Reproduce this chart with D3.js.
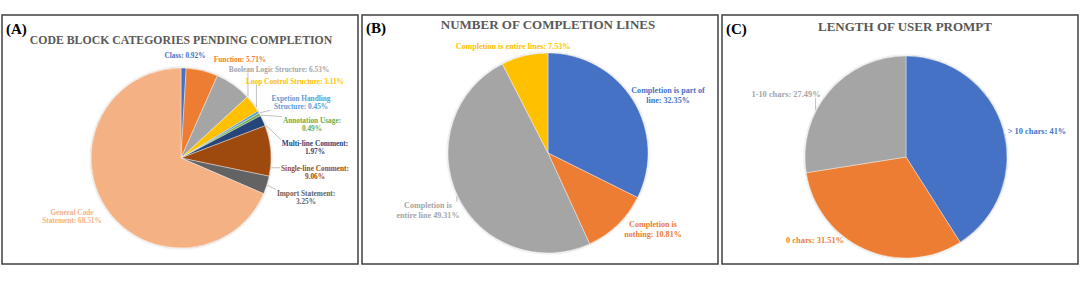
<!DOCTYPE html>
<html>
<head>
  <script src="https://d3js.org/d3.v7.min.js"></script>
  <style>
    body { margin: 0; background: #fff; }
    text { font-family: "Liberation Serif", "Times New Roman", serif; font-weight: bold; }
  </style>
</head>
<body>
  <svg id="chart" width="1080" height="282"></svg>
  <script>
    // ---- data ----
    const blockCategories = ["Class", "Function", "Boolean Logic Structure", "Loop Control Structure",
      "Expetion Handling Structure", "Annotation Usage", "Multi-line Comment", "Single-line Comment",
      "Import Statement", "General Code Statement"];
    const blockValues = [0.92, 5.71, 6.53, 3.11, 0.45, 0.49, 1.97, 9.06, 3.25, 68.51];
    const blockLabels = [["Class: 0.92%"], ["Function: 5.71%"], ["Boolean Logic Structure: 6.53%"],
      ["Loop Control Structure: 3.11%"], ["Expetion Handling", "Structure: 0.45%"], ["Annotation Usage:", "0.49%"],
      ["Multi-line Comment:", "1.97%"], ["Single-line Comment:", "9.06%"], ["Import Statement:", "3.25%"],
      ["General Code", "Statement: 68.51%"]];

    const lineCategories = ["Completion is part of line", "Completion is nothing", "Completion is entire line", "Completion is entire lines"];
    const lineValues = [32.35, 10.81, 49.31, 7.53];
    const lineLabels = [["Completion is part of", "line: 32.35%"], ["Completion is", "nothing: 10.81%"],
      ["Completion is", "entire line 49.31%"], ["Completion is entire lines: 7.53%"]];

    const promptCategories = ["> 10 chars", "0 chars", "1-10 chars"];
    const promptValues = [41, 31.51, 27.49];
    const promptLabels = [["> 10 chars: 41%"], ["0 chars: 31.51%"], ["1-10 chars: 27.49%"]];

    // ---- styles / layout ----
    const blockColors = ["#4472C4", "#ED7D31", "#A5A5A5", "#FFC000", "#5B9BD5", "#70AD47", "#264478", "#9E480E", "#636363", "#F4B183"];
    const lineColors = ["#4472C4", "#ED7D31", "#A5A5A5", "#FFC000"];
    const promptColors = ["#4472C4", "#ED7D31", "#A5A5A5"];

    const blockLabelPos = [[185, 55], [240, 59], [279, 69], [295, 81], [301, 98], [312, 120], [315, 143], [315, 168], [306, 193], [72, 212]];
    const lineLabelPos = [[668, 90], [653, 224], [428, 205], [513, 46]];
    const promptLabelPos = [[1037, 131], [815, 240], [786, 94]];

    // which labels get a leader line
    const blockLeaders = [false, false, true, true, true, true, true, true, true, false];
    const lineLeaders = [false, false, true, false];
    const promptLeaders = [false, false, true];

    const panels = [
      { tag: "(A)", title: "CODE BLOCK CATEGORIES PENDING COMPLETION", x: 2, tagY: 29, titleY: 40, titleX: 181, titleSize: 11.8,
        cx: 181, cy: 158, r: 90, vals: blockValues, labels: blockLabels, colors: blockColors,
        pos: blockLabelPos, leaders: blockLeaders, fs: 7.3 },
      { tag: "(B)", title: "NUMBER OF COMPLETION LINES", x: 362, tagY: 28, titleY: 25, titleX: 548, titleSize: 13,
        cx: 548, cy: 153, r: 100, vals: lineValues, labels: lineLabels, colors: lineColors,
        pos: lineLabelPos, leaders: lineLeaders, fs: 8.1 },
      { tag: "(C)", title: "LENGTH OF USER PROMPT", x: 722, tagY: 29, titleY: 27, titleX: 905, titleSize: 13,
        cx: 906, cy: 157, r: 101, vals: promptValues, labels: promptLabels, colors: promptColors,
        pos: promptLabelPos, leaders: promptLeaders, fs: 8.4 }
    ];

    const svg = d3.select("svg#chart");
    const panelW = 356, panelTop = 15, panelH = 249;

    const filter = svg.append("defs").append("filter").attr("id", "soft")
      .attr("x", "-10%").attr("y", "-10%").attr("width", "120%").attr("height", "120%");
    filter.append("feDropShadow").attr("dx", 0).attr("dy", 0).attr("stdDeviation", 1.2)
      .attr("flood-color", "#000").attr("flood-opacity", 0.3);

    panels.forEach(p => {
      const g = svg.append("g");

      g.append("rect")
        .attr("x", p.x).attr("y", panelTop)
        .attr("width", panelW).attr("height", panelH)
        .attr("fill", "#fff").attr("stroke", "#404040").attr("stroke-width", 1.5);

      g.append("text")
        .attr("x", p.x + 4).attr("y", p.tagY + 5)
        .style("font-size", "15px").attr("fill", "#000")
        .text(p.tag);

      g.append("text")
        .attr("x", p.titleX).attr("y", p.titleY + 4)
        .attr("text-anchor", "middle")
        .style("font-size", p.titleSize + "px").attr("fill", "#595959")
        .text(p.title);

      const pie = d3.pie().sort(null).value(d => d)(p.vals);
      const arc = d3.arc().innerRadius(0).outerRadius(p.r);

      g.append("g")
        .attr("transform", `translate(${p.cx},${p.cy})`)
        .attr("filter", "url(#soft)")
        .selectAll("path")
        .data(pie)
        .join("path")
        .attr("d", arc)
        .attr("fill", (d, i) => p.colors[i])
        .attr("stroke", "#fff")
        .attr("stroke-width", 0.4);

      // labels
      const lh = p.fs * 1.2;
      pie.forEach((d, i) => {
        const [lx, ly] = p.pos[i];
        const t = g.append("text")
          .attr("text-anchor", "middle")
          .style("font-size", p.fs + "px")
          .attr("fill", p.colors[i]);
        p.labels[i].forEach((line, k) => {
          t.append("tspan").attr("x", lx).attr("y", ly + p.fs * 0.35 + k * lh).text(line);
        });

        if (!p.leaders[i]) return;
        // leader: from slice edge (angle toward label, clamped to slice) to nearest point of label box
        const bb = t.node().getBBox();
        const bcx = bb.x + bb.width / 2, bcy = bb.y + bb.height / 2;
        let ang = Math.atan2(bcx - p.cx, -(bcy - p.cy));
        if (ang < 0) ang += 2 * Math.PI;
        ang = Math.max(d.startAngle, Math.min(d.endAngle, ang));
        const sx = p.cx + Math.sin(ang) * (p.r + 1);
        const sy = p.cy - Math.cos(ang) * (p.r + 1);
        const ex = Math.max(bb.x - 1, Math.min(sx, bb.x + bb.width + 1));
        const ey = Math.max(bb.y + 1, Math.min(sy, bb.y + bb.height - 1));
        g.append("line")
          .attr("x1", sx).attr("y1", sy).attr("x2", ex).attr("y2", ey)
          .attr("stroke", "#A6A6A6").attr("stroke-width", 0.7);
      });
    });
  </script>
</body>
</html>
